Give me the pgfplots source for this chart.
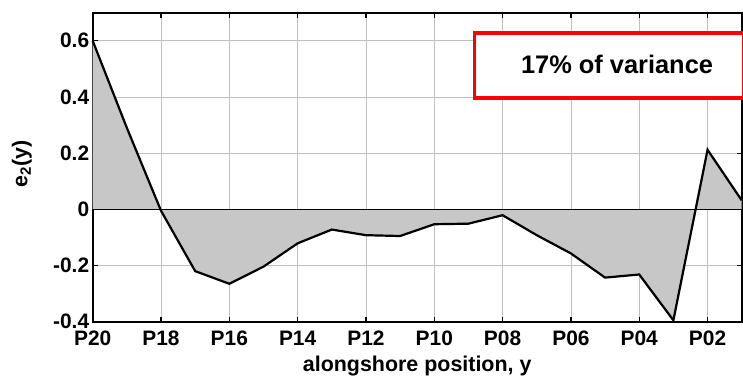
\documentclass[border=0pt]{standalone}
\usepackage{pgfplots}
\pgfplotsset{compat=1.18}
\usepackage{fontspec}
\setmainfont{Liberation Sans}
\begin{document}
\begin{tikzpicture}
\path[use as bounding box] (-92.7bp,-54.3bp) rectangle (650.3bp,321.7bp);
\begin{axis}[
  at={(0,0)}, anchor=south west,
  scale only axis,
  width=649bp, height=309bp,
  xmin=0, xmax=19, ymin=-0.4, ymax=0.7,
  xtick={0,2,...,18},
  xticklabels={P20,P18,P16,P14,P12,P10,P08,P06,P04,P02},
  ytick={-0.4,-0.2,0,0.2,0.4,0.6},
  yticklabels={-0.4,-0.2,0,0.2,0.4,0.6},
  grid=major,
  grid style={black!25, line width=0.7bp},
  tick align=inside,
  major tick length=5bp,
  tick style={black, line width=1.2bp},
  axis line style={black, line width=1.8bp},
  every tick label/.style={font=\fontsize{21}{23}\selectfont\bfseries},
  xticklabel style={yshift=-6bp},
  yticklabel style={xshift=0bp},
  xlabel={alongshore position, y},
  ylabel={e$_{\mathbf 2}$(y)},
  label style={font=\fontsize{21.5}{23}\selectfont\bfseries},
  xlabel style={at={(axis description cs:0.5,0)}, anchor=center, yshift=-44bp},
  ylabel style={at={(axis description cs:-0.109,0.51)}, anchor=center},
  clip=false,
]
\addplot[fill=black!22, draw=none] coordinates {
(0,0.6) (1,0.29) (2,-0.005) (3,-0.22) (4,-0.265) (5,-0.204) (6,-0.121) (7,-0.072)
(8,-0.092) (9,-0.095) (10,-0.053) (11,-0.051) (12,-0.021) (13,-0.092) (14,-0.157)
(15,-0.243) (16,-0.232) (17,-0.395) (18,0.212) (19,0.032)} \closedcycle;
\draw[black, line width=1.6bp] (axis cs:0,0) -- (axis cs:19,0);
\addplot[black, line width=2.2bp] coordinates {
(0,0.6) (1,0.29) (2,-0.005) (3,-0.22) (4,-0.265) (5,-0.204) (6,-0.121) (7,-0.072)
(8,-0.092) (9,-0.095) (10,-0.053) (11,-0.051) (12,-0.021) (13,-0.092) (14,-0.157)
(15,-0.243) (16,-0.232) (17,-0.395) (18,0.212) (19,0.032)};
\fill[black!15] ([xshift=2bp,yshift=-2bp]axis cs:11.18,0.627) rectangle ([xshift=2bp,yshift=-2bp]axis cs:19.05,0.397);
\draw[red, line width=3.5bp, fill=white] (axis cs:11.18,0.627) rectangle (axis cs:19.05,0.397);
\node[font=\fontsize{25.5}{27}\selectfont\bfseries] at (axis cs:15.35,0.516) {17\% of variance};
\end{axis}
\end{tikzpicture}
\end{document}
